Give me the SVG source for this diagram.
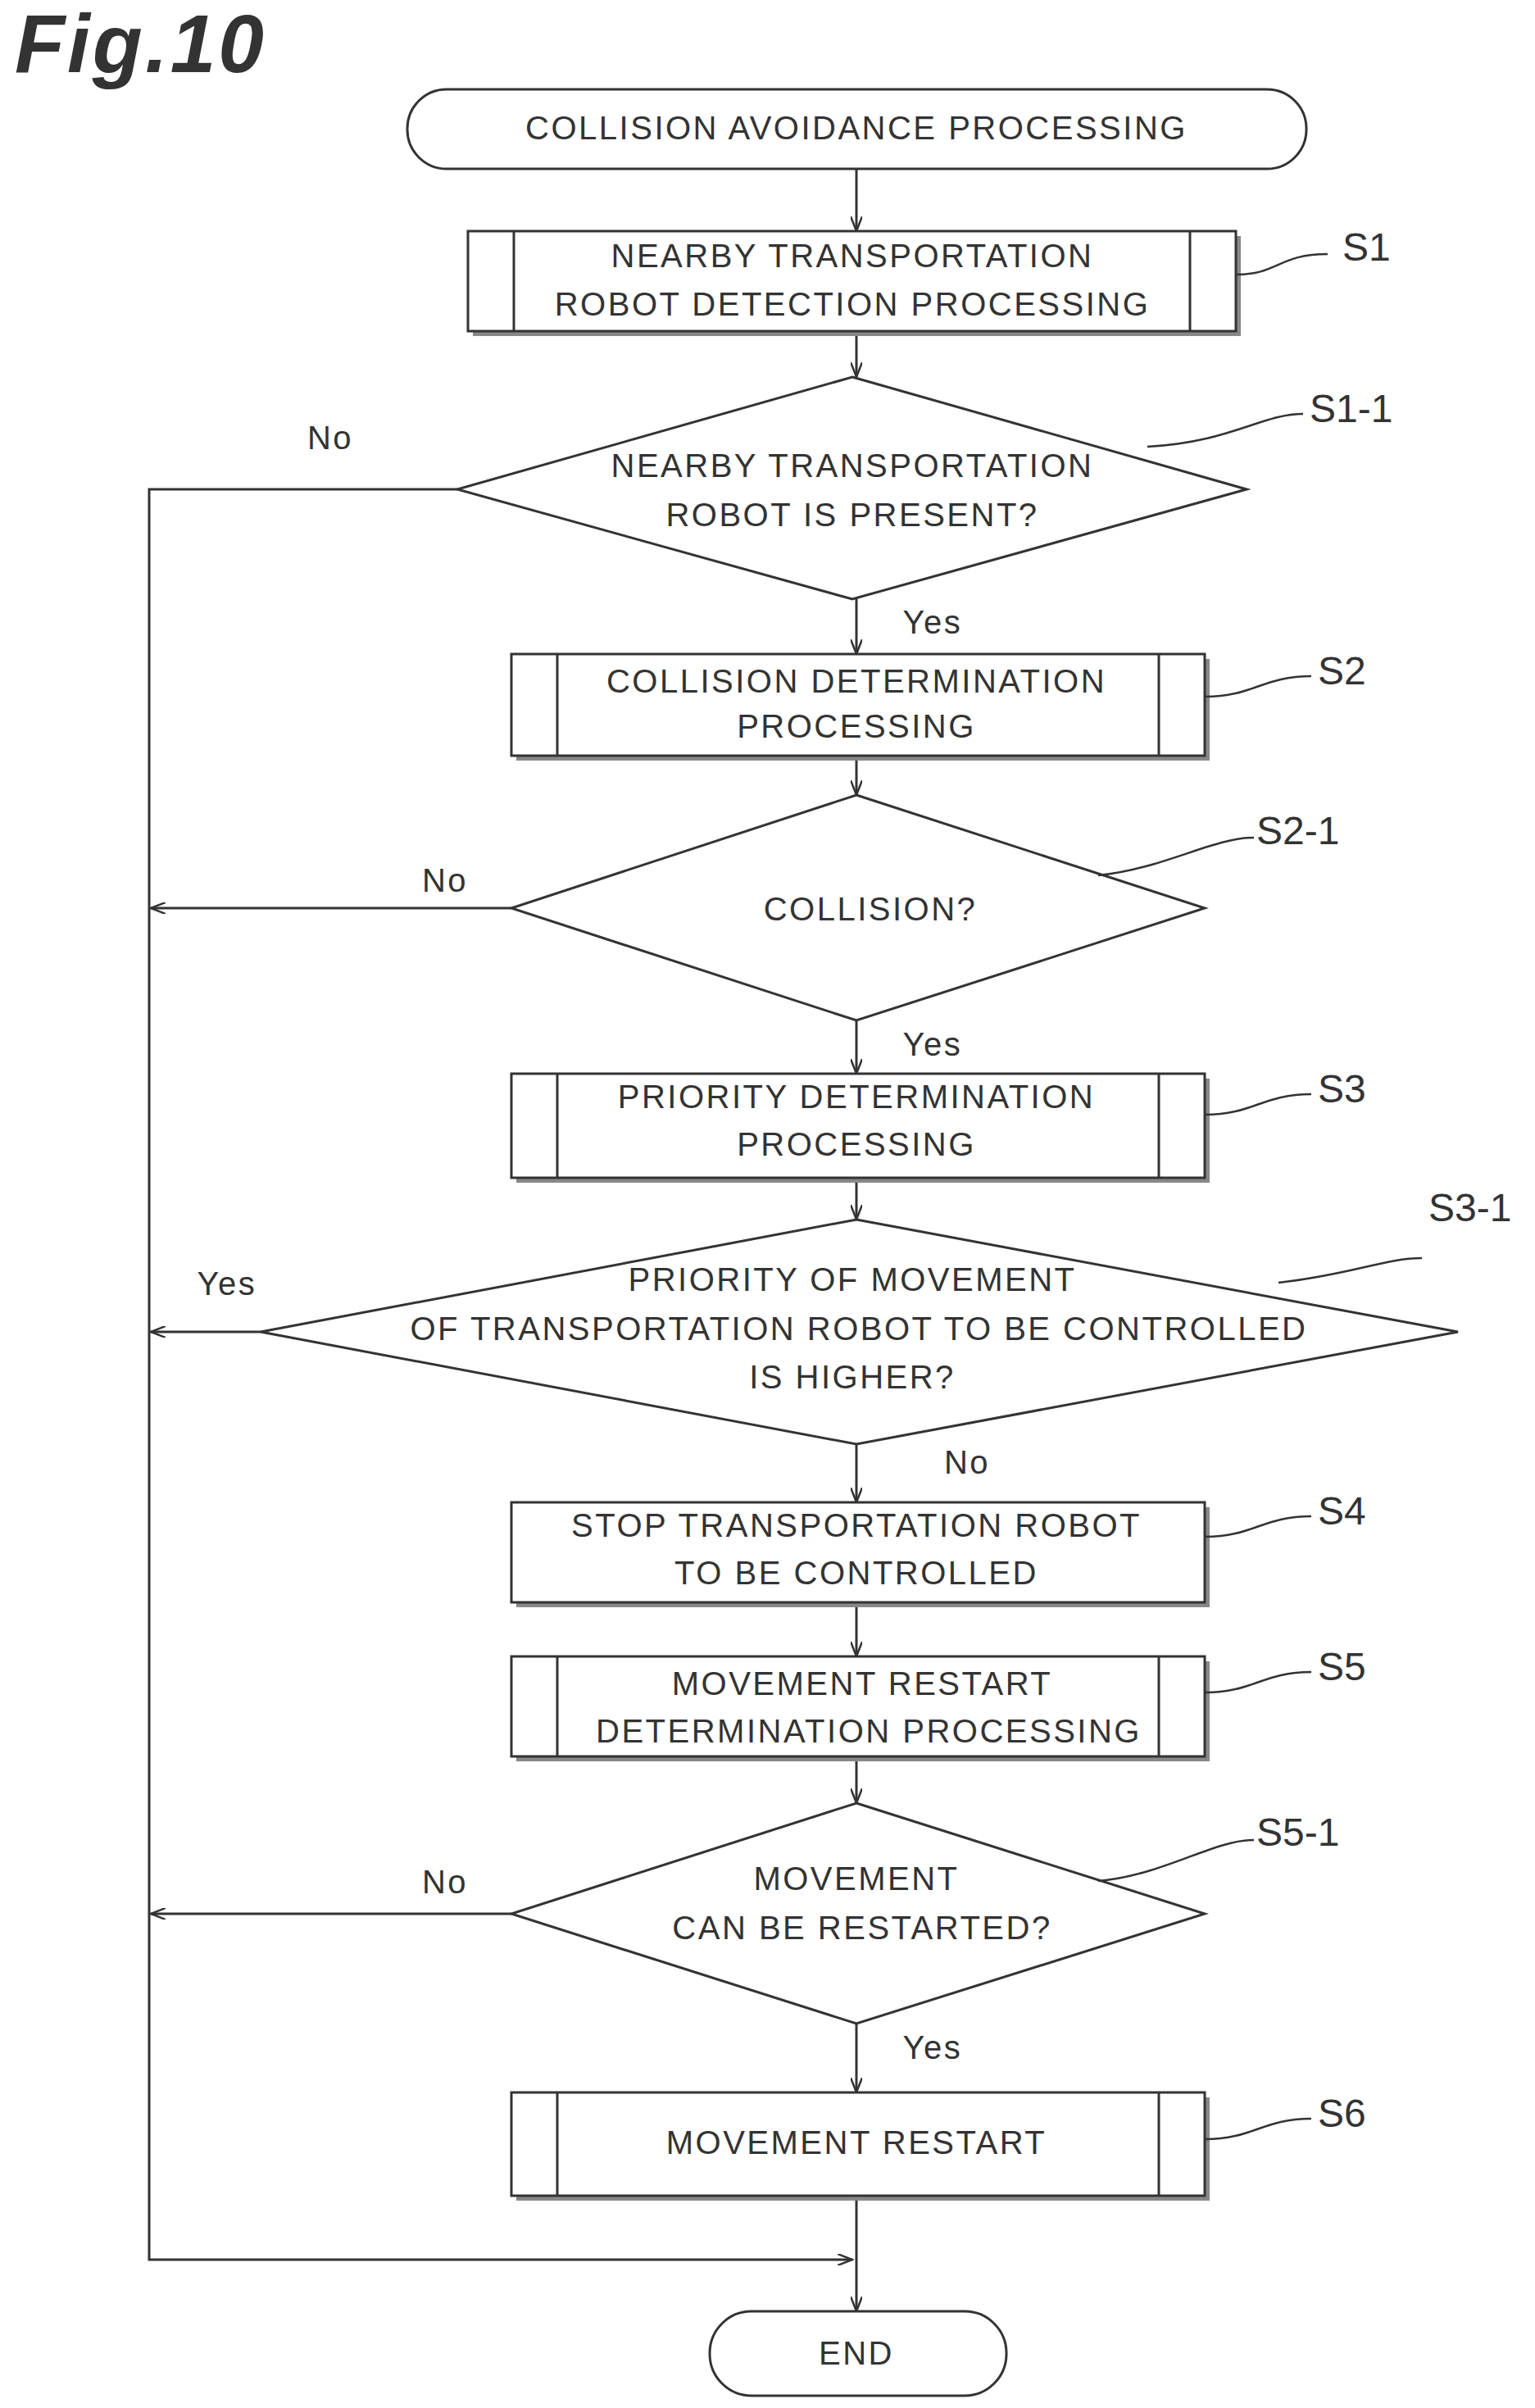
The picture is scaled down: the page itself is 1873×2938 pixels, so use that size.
<svg xmlns="http://www.w3.org/2000/svg" width="1873" height="2938" viewBox="0 0 1873 2938">
<defs>
<marker id="ar" markerWidth="20" markerHeight="14" refX="18" refY="7" orient="auto" markerUnits="userSpaceOnUse"><path d="M0,0 L18,7 L0,14" fill="none" stroke="#333" stroke-width="2.5"/></marker>
</defs>
<style>
text{font-family:"Liberation Sans",Arial,sans-serif;font-size:40px;fill:#333;text-anchor:middle;letter-spacing:2.5px}
.lb{text-anchor:start;font-size:48px;letter-spacing:0}
.s{fill:#fff;stroke:#333;stroke-width:3}
.sh{fill:#888;stroke:none}
.ln{fill:none;stroke:#333;stroke-width:3}
.ld{fill:none;stroke:#333;stroke-width:2.5}
</style>
<text x="18" y="88" style="font-size:100px;font-weight:bold;font-style:italic;text-anchor:start;letter-spacing:3px">Fig.10</text>
<g id="connectors">
<line class="ln" x1="1045" y1="206" x2="1045" y2="282" marker-end="url(#ar)"/>
<line class="ln" x1="1045" y1="404" x2="1045" y2="460" marker-end="url(#ar)"/>
<line class="ln" x1="1045" y1="731" x2="1045" y2="798" marker-end="url(#ar)"/>
<line class="ln" x1="1045" y1="922" x2="1045" y2="970" marker-end="url(#ar)"/>
<line class="ln" x1="1045" y1="1245" x2="1045" y2="1310" marker-end="url(#ar)"/>
<line class="ln" x1="1045" y1="1437" x2="1045" y2="1488" marker-end="url(#ar)"/>
<line class="ln" x1="1045" y1="1762" x2="1045" y2="1833" marker-end="url(#ar)"/>
<line class="ln" x1="1045" y1="1955" x2="1045" y2="2021" marker-end="url(#ar)"/>
<line class="ln" x1="1045" y1="2143" x2="1045" y2="2200" marker-end="url(#ar)"/>
<line class="ln" x1="1045" y1="2469" x2="1045" y2="2553" marker-end="url(#ar)"/>
<line class="ln" x1="1045" y1="2679" x2="1045" y2="2820" marker-end="url(#ar)"/>
<polyline class="ln" points="558,597 182,597 182,2757 1040,2757" marker-end="url(#ar)"/>
<line class="ln" x1="624" y1="1108" x2="184" y2="1108" marker-end="url(#ar)"/>
<line class="ln" x1="318" y1="1625" x2="184" y2="1625" marker-end="url(#ar)"/>
<line class="ln" x1="624" y1="2335" x2="184" y2="2335" marker-end="url(#ar)"/>
<text x="403" y="548">No</text>
<text x="1138" y="773">Yes</text>
<text x="543" y="1088">No</text>
<text x="1138" y="1288">Yes</text>
<text x="277" y="1580">Yes</text>
<text x="1180" y="1798">No</text>
<text x="543" y="2310">No</text>
<text x="1138" y="2512">Yes</text>
</g>
<g id="start"><rect class="s" x="497" y="109" width="1097" height="97" rx="48"/><text x="1045" y="170">COLLISION AVOIDANCE PROCESSING</text></g>
<g id="S1"><rect class="sh" x="577" y="288" width="937" height="122"/><rect class="s" x="571" y="282" width="937" height="122"/><line class="ln" x1="627" y1="282" x2="627" y2="404"/><line class="ln" x1="1452" y1="282" x2="1452" y2="404"/><text x="1040" y="326">NEARBY TRANSPORTATION</text><text x="1040" y="385">ROBOT DETECTION PROCESSING</text><path class="ld" d="M1508,335 C1560,335 1560,310 1620,310"/><text class="lb" x="1638" y="318">S1</text></g>
<g id="S1-1"><polygon class="s" points="1040,460 1521,597 1040,731 558,597"/><text x="1040" y="582">NEARBY TRANSPORTATION</text><text x="1040" y="642">ROBOT IS PRESENT?</text><path class="ld" d="M1400,545 C1500,540 1540,505 1590,505"/><text class="lb" x="1598" y="515">S1-1</text></g>
<g id="S2"><rect class="sh" x="630" y="804" width="846" height="124"/><rect class="s" x="624" y="798" width="846" height="124"/><line class="ln" x1="680" y1="798" x2="680" y2="922"/><line class="ln" x1="1414" y1="798" x2="1414" y2="922"/><text x="1045" y="845">COLLISION DETERMINATION</text><text x="1045" y="900">PROCESSING</text><path class="ld" d="M1470,850 C1530,850 1540,825 1600,825"/><text class="lb" x="1608" y="835">S2</text></g>
<g id="S2-1"><polygon class="s" points="1045,970 1470,1108 1045,1245 624,1108"/><text x="1062" y="1123">COLLISION?</text><path class="ld" d="M1340,1068 C1420,1060 1480,1022 1530,1022"/><text class="lb" x="1533" y="1030">S2-1</text></g>
<g id="S3"><rect class="sh" x="630" y="1316" width="846" height="127"/><rect class="s" x="624" y="1310" width="846" height="127"/><line class="ln" x1="680" y1="1310" x2="680" y2="1437"/><line class="ln" x1="1414" y1="1310" x2="1414" y2="1437"/><text x="1045" y="1352">PRIORITY DETERMINATION</text><text x="1045" y="1410">PROCESSING</text><path class="ld" d="M1470,1360 C1530,1360 1540,1335 1600,1335"/><text class="lb" x="1608" y="1345">S3</text></g>
<g id="S3-1"><polygon class="s" points="1045,1488 1779,1625 1045,1762 318,1625"/><text x="1040" y="1575">PRIORITY OF MOVEMENT</text><text x="1048" y="1635">OF TRANSPORTATION ROBOT TO BE CONTROLLED</text><text x="1040" y="1694">IS HIGHER?</text><path class="ld" d="M1560,1565 C1650,1555 1690,1535 1735,1535"/><text class="lb" x="1743" y="1490">S3-1</text></g>
<g id="S4"><rect class="sh" x="630" y="1839" width="846" height="122"/><rect class="s" x="624" y="1833" width="846" height="122"/><text x="1045" y="1875">STOP TRANSPORTATION ROBOT</text><text x="1045" y="1933">TO BE CONTROLLED</text><path class="ld" d="M1470,1875 C1530,1875 1540,1850 1600,1850"/><text class="lb" x="1608" y="1860">S4</text></g>
<g id="S5"><rect class="sh" x="630" y="2027" width="846" height="122"/><rect class="s" x="624" y="2021" width="846" height="122"/><line class="ln" x1="680" y1="2021" x2="680" y2="2143"/><line class="ln" x1="1414" y1="2021" x2="1414" y2="2143"/><text x="1052" y="2068">MOVEMENT RESTART</text><text x="1060" y="2126">DETERMINATION PROCESSING</text><path class="ld" d="M1470,2065 C1530,2065 1540,2040 1600,2040"/><text class="lb" x="1608" y="2050">S5</text></g>
<g id="S5-1"><polygon class="s" points="1045,2200 1470,2335 1045,2469 624,2335"/><text x="1045" y="2306">MOVEMENT</text><text x="1052" y="2366">CAN BE RESTARTED?</text><path class="ld" d="M1340,2295 C1420,2288 1480,2245 1530,2245"/><text class="lb" x="1533" y="2252">S5-1</text></g>
<g id="S6"><rect class="sh" x="630" y="2559" width="846" height="126"/><rect class="s" x="624" y="2553" width="846" height="126"/><line class="ln" x1="680" y1="2553" x2="680" y2="2679"/><line class="ln" x1="1414" y1="2553" x2="1414" y2="2679"/><text x="1045" y="2628">MOVEMENT RESTART</text><path class="ld" d="M1470,2610 C1530,2610 1540,2585 1600,2585"/><text class="lb" x="1608" y="2595">S6</text></g>
<g id="end"><rect class="s" x="866" y="2820" width="362" height="103" rx="51"/><text x="1045" y="2885">END</text></g>
</svg>
